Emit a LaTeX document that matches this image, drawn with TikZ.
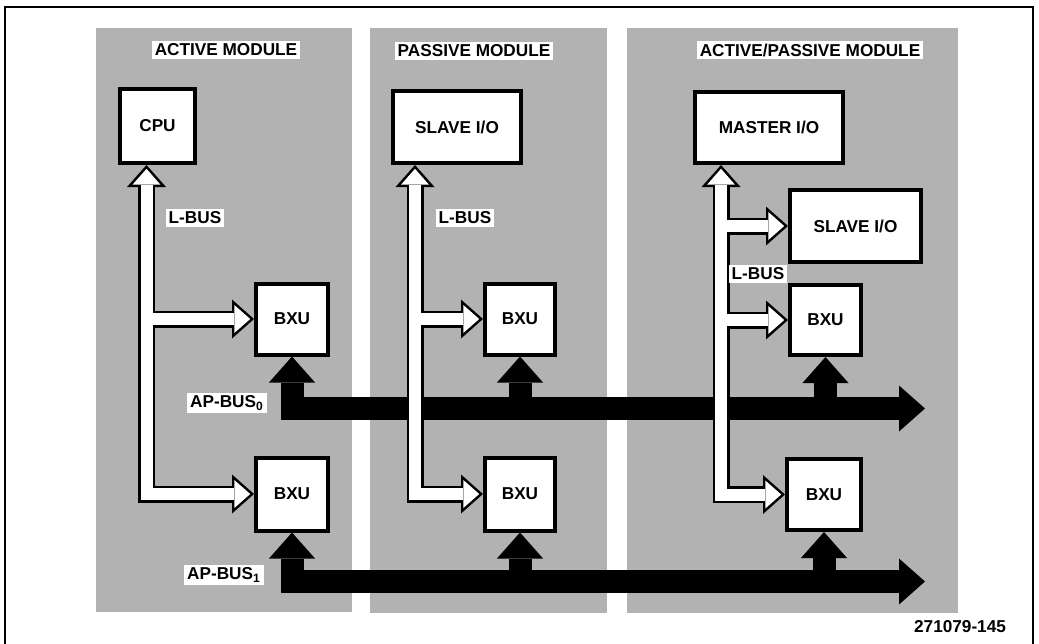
\documentclass[tikz,border=0pt]{standalone}
\usepackage{fontspec}
\setmainfont{Liberation Sans}
\usetikzlibrary{arrows.meta, calc}

\begin{document}
\begin{tikzpicture}[
  x=0.5pt, y=-0.5pt,
  panel/.style={fill=black!30, draw=none},
  unit/.style={rectangle, draw, line width=2pt, fill=white, inner sep=0pt, font=\bfseries\fontsize{8.6}{10}\selectfont},
  tag/.style={fill=white, inner sep=1.5pt, font=\bfseries\fontsize{8.6}{10}\selectfont},
  lbusedge/.style={draw=black, line width=8.5pt, >={Triangle[width=19.5pt, length=11pt, line width=0pt]}},
  lbuscore/.style={draw=white, line width=6pt, shorten >=1.9pt, shorten <=1.9pt, >={Triangle[width=13.9pt, length=7.9pt, line width=0pt]}},
  apbus/.style={draw=black, line width=11.5pt, >={Triangle[width=23pt, length=13pt, line width=0pt]}}
]
  \fill[white] (0,0) rectangle (1039,643);
  \useasboundingbox (0,0) rectangle (1039,643);
  \draw[line width=1.2pt] (5,7) rectangle (1033,660);

  % module panels
  \fill[panel] (96,28) rectangle (352,612);
  \fill[panel] (370,28) rectangle (607,613);
  \fill[panel] (627,28) rectangle (958,613);
  \node[tag] (active) at (226,50) {ACTIVE MODULE};
  \node[tag] (passive) at (474,51) {PASSIVE MODULE};
  \node[tag] (actpass) at (810,50) {ACTIVE/PASSIVE MODULE};

  % units
  \node[unit, minimum width=37.5pt, minimum height=37pt] (cpu) at (157.5,126) {CPU};
  \node[unit, minimum width=64pt, minimum height=36pt] (slave) at (457,127) {SLAVE I/O};
  \node[unit, minimum width=74pt, minimum height=35.5pt] (master) at (769,127.5) {MASTER I/O};
  \node[unit, minimum width=65.5pt, minimum height=36pt] (slavemp) at (855.5,226) {SLAVE I/O};
  \node[unit, minimum width=36pt, minimum height=35.5pt] (bxu1a) at (292,319) {BXU};
  \node[unit, minimum width=35pt, minimum height=35.5pt] (bxu2a) at (520,319) {BXU};
  \node[unit, minimum width=35.5pt, minimum height=35pt] (bxu3a) at (825.5,320) {BXU};
  \node[unit, minimum width=36pt, minimum height=36.5pt] (bxu1b) at (292,494) {BXU};
  \node[unit, minimum width=35pt, minimum height=36.5pt] (bxu2b) at (520,494) {BXU};
  \node[unit, minimum width=37pt, minimum height=35.5pt] (bxu3b) at (824,494.5) {BXU};

  % AP-buses
  \coordinate (ap0end) at (925,408.5);
  \coordinate (ap1end) at (925,581.5);
  \draw[apbus, <->] (bxu1a.south) |- (ap0end);
  \draw[apbus, ->] (bxu2a.south |- ap0end) -- (bxu2a.south);
  \draw[apbus, ->] (bxu3a.south |- ap0end) -- (bxu3a.south);
  \draw[apbus, <->] (bxu1b.south) |- (ap1end);
  \draw[apbus, ->] (bxu2b.south |- ap1end) -- (bxu2b.south);
  \draw[apbus, ->] (bxu3b.south |- ap1end) -- (bxu3b.south);
  \node[tag] (apbus0) at (227,403) {AP-BUS\textsubscript{0}};
  \node[tag] (apbus1) at (224,575) {AP-BUS\textsubscript{1}};

  % L-buses
  \coordinate (cputap) at (146.5,0 |- cpu.south);
  \coordinate (slavetap) at (415,0 |- slave.south);
  \coordinate (mastertap) at (721,0 |- master.south);
  \foreach \pass in {lbusedge, lbuscore} {
    \draw[\pass, <->] (cputap) |- (bxu1b.west);
    \draw[\pass, ->] (cputap |- bxu1a.west) -- (bxu1a.west);
    \draw[\pass, <->] (slavetap) |- (bxu2b.west);
    \draw[\pass, ->] (slavetap |- bxu2a.west) -- (bxu2a.west);
    \draw[\pass, <->] (mastertap) |- (bxu3b.west);
    \draw[\pass, ->] (mastertap |- slavemp.west) -- (slavemp.west);
    \draw[\pass, ->] (mastertap |- bxu3a.west) -- (bxu3a.west);
  }
  \node[tag] (lbus1) at (195,218) {L-BUS};
  \node[tag] (lbus2) at (465,218) {L-BUS};
  \node[tag] (lbus3) at (758,274) {L-BUS};

  \node[font=\bfseries\fontsize{8.6}{10}\selectfont, anchor=east] (figno) at (1013,627) {271079-145};
\end{tikzpicture}
\end{document}
